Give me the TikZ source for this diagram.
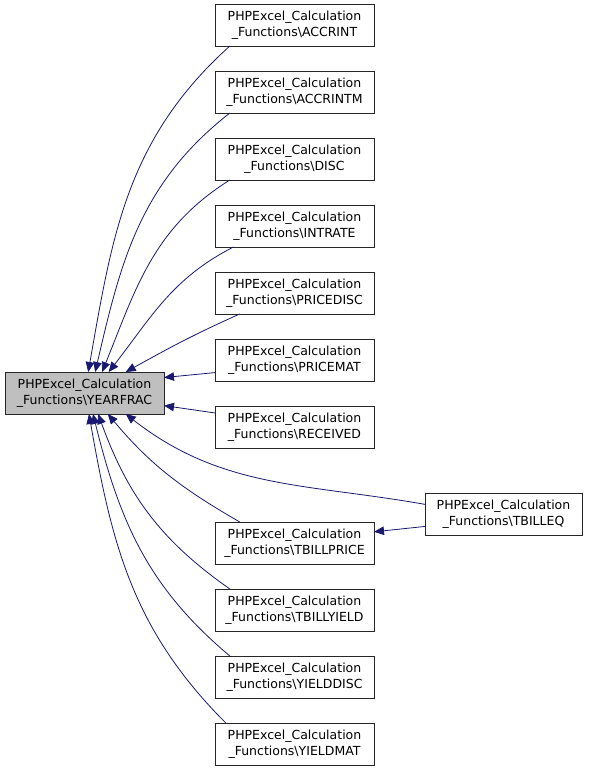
\documentclass[tikz,border=0pt]{standalone}
\usepackage{fontspec}
\setmainfont{DejaVu Sans}
\usetikzlibrary{arrows.meta}
\definecolor{depblue}{HTML}{191970}
\newcommand{\phpfn}[1]{PHPExcel\_Calculation\\\_Functions\textbackslash #1}
\begin{document}
\begin{tikzpicture}[x=1pt,y=1pt,
	fn/.style={draw=black!85,line width=0.9pt,fill=white,minimum width=159pt,minimum height=42pt,inner sep=0pt,outer sep=0pt,align=center,font=\fontsize{12.5}{16}\selectfont},
	dep/.style={{Triangle[length=10pt,width=8.5pt]}-,draw=depblue,line width=0.8pt}]
\useasboundingbox (0,0) rectangle (589,771);
\node[fn,fill=black!25] (0) at (84.5,378) {\phpfn{YEARFRAC}};
\node[fn] (1) at (294.5,746) {\phpfn{ACCRINT}};
\node[fn] (2) at (294.5,679) {\phpfn{ACCRINTM}};
\node[fn] (3) at (294.5,612) {\phpfn{DISC}};
\node[fn] (4) at (294.5,545) {\phpfn{INTRATE}};
\node[fn] (5) at (294.5,478) {\phpfn{PRICEDISC}};
\node[fn] (6) at (294.5,411) {\phpfn{PRICEMAT}};
\node[fn] (7) at (294.5,344) {\phpfn{RECEIVED}};
\node[fn,minimum width=157pt] (8) at (503.5,257) {\phpfn{TBILLEQ}};
\node[fn] (9) at (294.5,228) {\phpfn{TBILLPRICE}};
\node[fn] (10) at (294.5,161) {\phpfn{TBILLYIELD}};
\node[fn] (11) at (294.5,94) {\phpfn{YIELDDISC}};
\node[fn] (12) at (294.5,27) {\phpfn{YIELDMAT}};
\draw[dep] (0.80) to[out=80,in=222] (1.198);
\draw[dep] (0.63) to[out=77,in=218] (2.198);
\draw[dep] (0.50) to[out=68,in=212] (3.198);
\draw[dep] (0.41) to[out=52,in=207] (4.199);
\draw[dep] (0.27) to[out=29,in=204] (5.201);
\draw[dep] (0.11) -- (6.189);
\draw[dep] (0.-9) -- (7.170);
\draw[dep] (0.-27) to[out=-38,in=170] (8.173);
\draw[dep] (9.8) -- (8.189);
\draw[dep] (0.-42) to[out=-50,in=150] (9.159);
\draw[dep] (0.-57) to[out=-70,in=145] (10.162);
\draw[dep] (0.-68) to[out=-76,in=140] (11.162);
\draw[dep] (0.-78) to[out=-80,in=135] (12.163);
\end{tikzpicture}
\end{document}
